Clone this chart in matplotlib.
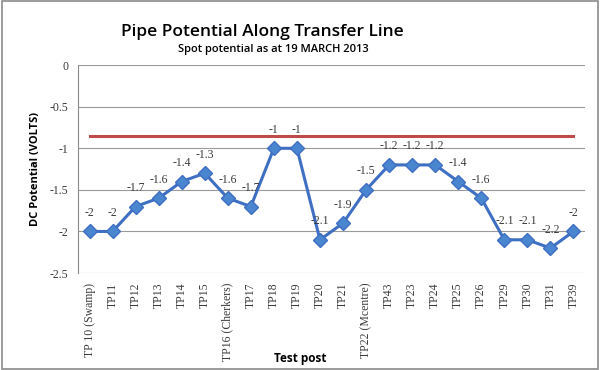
import matplotlib.pyplot as plt
from matplotlib.patches import Rectangle

posts = ["TP 10 (Swamp)", "TP11", "TP12", "TP13", "TP14", "TP15", "TP16 (Cherkers)",
         "TP17", "TP18", "TP19", "TP20", "TP21", "TP22 (Mcentre)", "TP43", "TP23",
         "TP24", "TP25", "TP26", "TP29", "TP30", "TP31", "TP39"]
potential = [-2, -2, -1.7, -1.6, -1.4, -1.3, -1.6, -1.7, -1, -1, -2.1, -1.9, -1.5,
             -1.2, -1.2, -1.2, -1.4, -1.6, -2.1, -2.1, -2.2, -2]
criterion = [-0.85] * len(posts)

fig = plt.figure(figsize=(6, 3.7), dpi=100)
ax = fig.add_axes([0.13, 0.262, 0.845, 0.562])

x = list(range(len(posts)))
ax.plot(x, criterion, color="#be4b48", lw=2.2, zorder=2)
ax.plot(x, potential, color="#3f6fc2", lw=2.2, marker="D", markersize=7,
        markerfacecolor="#4a86d0", markeredgecolor="#3f6fc2", zorder=3)

for xi, v in zip(x, potential):
    ax.annotate(f"{v:g}", (xi, v), xytext=(0, 9), textcoords="offset points",
                ha="center", va="bottom", fontsize=8.5, family="Liberation Serif",
                color="#3a3a3a")

ax.set_xlim(-0.5, len(posts) - 0.5)
ax.set_ylim(-2.5, 0)
ax.set_yticks([0, -0.5, -1, -1.5, -2, -2.5])
ax.set_yticklabels(["0", "-0.5", "-1", "-1.5", "-2", "-2.5"])
ax.set_xticks(x)
ax.set_xticklabels(posts, rotation=90)
for lab in ax.get_xticklabels() + ax.get_yticklabels():
    lab.set_family("Liberation Serif")
    lab.set_fontsize(8.5)
    lab.set_color("#3a3a3a")
ax.tick_params(length=0, pad=7)
ax.grid(axis="y", color="#9a9a9a", lw=0.8)
ax.set_axisbelow(True)
for s in ["top", "right", "bottom"]:
    ax.spines[s].set_visible(False)
ax.spines["left"].set_color("#8a8a8a")

ax.set_ylabel("DC Potential (VOLTS)", fontsize=8, fontweight="bold", family="Open Sans",
              labelpad=6)
fig.text(0.5, 0.022, "Test post", ha="center", fontsize=8.5, fontweight="bold",
         family="Open Sans")
fig.text(0.437, 0.903, "Pipe Potential Along Transfer Line", ha="center",
         fontsize=12.5, family="Open Sans", fontweight="semibold")
fig.text(0.455, 0.86, "Spot potential as at 19 MARCH 2013", ha="center",
         fontsize=8, family="Open Sans", fontweight="semibold")

fig.patches.append(Rectangle((0.003, 0.004), 0.994, 0.992, transform=fig.transFigure,
                             fill=False, edgecolor="#8a8a8a", lw=1.2))

fig.savefig("out.png", dpi=100)
